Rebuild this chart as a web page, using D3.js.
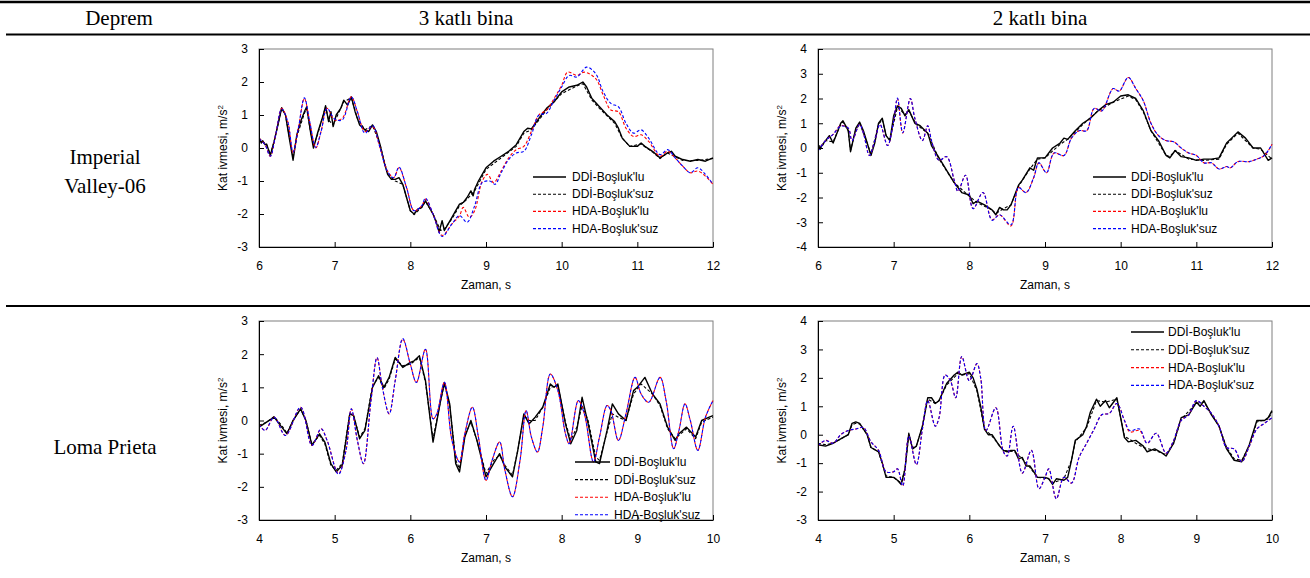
<!DOCTYPE html>
<html lang="tr">
<head>
<meta charset="UTF-8">
<script src="https://cdnjs.cloudflare.com/ajax/libs/d3/7.8.5/d3.min.js"></script>
<title>Kat ivmesi karşılaştırması</title>
<style>
  body { margin: 0; background: #fff; }
  svg { display: block; }
</style>
</head>
<body>
<script>

// table headers
let colTitles = ["Deprem", "3 katlı bina", "2 katlı bina"];
let rowTitles = [["Imperial", "Valley-06"], ["Loma Prieta"]];
let seriesNames = ["DDİ-Boşluk'lu", "DDİ-Boşluk'suz", "HDA-Boşluk'lu", "HDA-Boşluk'suz"];

let ivTicksX = [6, 7, 8, 9, 10, 11, 12];
let lpTicksX = [4, 5, 6, 7, 8, 9, 10];

// Imperial Valley-06, 3 katlı  [t, ivme]
let iv3DdiLu = [[6.00,0.32],[6.03,0.15],[6.05,0.22],[6.08,0.1],[6.1,0.12],[6.15,-0.22],[6.2,0.2],[6.25,0.7],[6.3,1.22],[6.35,1.0],[6.4,0.3],[6.45,-0.37],[6.5,0.4],[6.55,0.8],[6.6,1.1],[6.63,1.25],[6.68,0.5],[6.72,0.0],[6.78,0.5],[6.85,1.0],[6.88,1.28],[6.92,0.8],[6.95,1.1],[6.98,0.65],[7.02,1.0],[7.08,1.2],[7.12,1.45],[7.17,1.3],[7.22,1.55],[7.27,1.1],[7.33,0.7],[7.4,0.55],[7.45,0.5],[7.5,0.7],[7.55,0.5],[7.6,0.1],[7.65,-0.4],[7.7,-0.8],[7.75,-0.95],[7.8,-0.95],[7.85,-0.9],[7.9,-1.1],[7.95,-1.5],[8.0,-1.9],[8.05,-2.0],[8.1,-1.85],[8.15,-1.8],[8.2,-1.6],[8.25,-1.8],[8.3,-2.0],[8.35,-2.3],[8.38,-2.55],[8.42,-2.2],[8.45,-2.5],[8.5,-2.3],[8.55,-2.1],[8.6,-1.9],[8.65,-1.7],[8.7,-1.65],[8.75,-1.5],[8.8,-1.3],[8.83,-1.45],[8.85,-1.25],[8.9,-1.0],[8.95,-0.8],[9.0,-0.6],[9.1,-0.4],[9.2,-0.25],[9.3,-0.1],[9.4,0.1],[9.5,0.5],[9.55,0.6],[9.6,0.58],[9.7,0.9],[9.8,1.2],[9.9,1.4],[10.0,1.7],[10.1,1.85],[10.2,1.9],[10.28,2.0],[10.33,1.85],[10.4,1.5],[10.5,1.25],[10.6,1.0],[10.7,0.8],[10.75,0.6],[10.8,0.3],[10.9,0.05],[11.0,0.05],[11.05,0.15],[11.1,0.05],[11.2,-0.1],[11.3,-0.3],[11.4,-0.15],[11.45,-0.1],[11.5,-0.25],[11.6,-0.35],[11.7,-0.4],[11.8,-0.35],[11.9,-0.4],[12.0,-0.3]];
let iv3DdiSuz = [[6.00,0.3],[6.05,0.18],[6.1,0.1],[6.15,-0.2],[6.2,0.2],[6.3,1.2],[6.35,1.0],[6.4,0.35],[6.45,-0.3],[6.5,0.35],[6.6,1.05],[6.63,1.2],[6.68,0.5],[6.72,0.05],[6.78,0.45],[6.88,1.25],[6.92,0.85],[6.98,0.7],[7.05,1.05],[7.12,1.4],[7.22,1.52],[7.3,0.9],[7.4,0.55],[7.5,0.68],[7.6,0.1],[7.7,-0.8],[7.8,-1.0],[7.9,-1.1],[8.0,-1.9],[8.05,-2.02],[8.15,-1.8],[8.2,-1.62],[8.3,-2.0],[8.4,-2.5],[8.45,-2.45],[8.55,-2.15],[8.65,-1.75],[8.75,-1.55],[8.85,-1.3],[9.0,-0.65],[9.2,-0.3],[9.4,0.05],[9.5,0.45],[9.6,0.55],[9.8,1.15],[10.0,1.65],[10.2,1.88],[10.28,1.95],[10.4,1.45],[10.5,1.2],[10.7,0.75],[10.8,0.3],[10.9,0.05],[11.05,0.12],[11.2,-0.12],[11.3,-0.32],[11.4,-0.15],[11.6,-0.38],[11.8,-0.38],[12.0,-0.32]];
let iv3HdaLu = [[6.0,0.3],[6.08,0.1],[6.15,-0.25],[6.22,0.4],[6.3,1.2],[6.38,0.8],[6.45,-0.15],[6.52,0.6],[6.6,1.5],[6.67,0.8],[6.75,0.0],[6.82,0.5],[6.9,1.2],[7.0,0.85],[7.1,0.9],[7.22,1.55],[7.3,1.1],[7.4,0.5],[7.5,0.65],[7.6,0.0],[7.7,-0.7],[7.78,-0.9],[7.85,-0.6],[7.95,-1.2],[8.05,-1.9],[8.15,-1.75],[8.2,-1.55],[8.3,-2.0],[8.42,-2.65],[8.55,-2.3],[8.65,-2.05],[8.7,-1.8],[8.78,-2.1],[8.85,-1.9],[8.95,-1.0],[9.02,-0.8],[9.1,-1.05],[9.2,-0.7],[9.3,-0.3],[9.4,-0.05],[9.5,0.05],[9.6,0.5],[9.7,1.0],[9.8,1.15],[9.9,1.5],[10.0,1.9],[10.08,2.3],[10.2,2.2],[10.3,2.3],[10.45,2.1],[10.55,1.6],[10.65,1.15],[10.75,1.1],[10.85,0.6],[10.95,0.35],[11.05,0.4],[11.15,0.2],[11.3,-0.25],[11.4,-0.1],[11.5,-0.3],[11.6,-0.55],[11.7,-0.75],[11.8,-0.7],[11.9,-0.85],[12.0,-1.1]];
let iv3HdaSuz = [[6.0,0.28],[6.08,0.1],[6.15,-0.25],[6.22,0.4],[6.3,1.18],[6.38,0.8],[6.45,-0.12],[6.52,0.6],[6.6,1.52],[6.67,0.8],[6.75,0.02],[6.82,0.5],[6.9,1.2],[7.0,0.88],[7.1,0.85],[7.22,1.55],[7.3,1.1],[7.4,0.45],[7.5,0.68],[7.6,0.0],[7.7,-0.72],[7.78,-0.9],[7.85,-0.58],[7.95,-1.2],[8.05,-1.9],[8.15,-1.75],[8.2,-1.52],[8.3,-2.0],[8.42,-2.68],[8.55,-2.3],[8.65,-2.05],[8.75,-2.25],[8.85,-1.75],[8.95,-1.05],[9.05,-1.0],[9.12,-1.1],[9.2,-0.75],[9.3,-0.35],[9.4,-0.15],[9.5,-0.1],[9.6,0.4],[9.7,1.0],[9.8,1.05],[9.9,1.45],[10.0,1.85],[10.1,2.2],[10.2,2.15],[10.33,2.45],[10.45,2.25],[10.55,1.7],[10.65,1.35],[10.75,1.25],[10.85,0.75],[10.95,0.45],[11.05,0.55],[11.15,0.3],[11.3,-0.2],[11.4,-0.05],[11.5,-0.3],[11.6,-0.55],[11.7,-0.75],[11.8,-0.6],[11.9,-0.8],[12.0,-1.1]];

// Imperial Valley-06, 2 katlı
let iv2DdiLu = [[6.0,0.15],[6.03,-0.05],[6.05,0.1],[6.1,0.3],[6.15,0.5],[6.2,0.2],[6.25,0.6],[6.3,1.0],[6.33,1.1],[6.4,0.7],[6.43,-0.15],[6.5,0.8],[6.55,1.05],[6.6,0.7],[6.65,0.2],[6.7,-0.3],[6.75,0.2],[6.8,1.0],[6.85,1.2],[6.9,0.5],[6.95,0.3],[7.0,1.3],[7.05,1.7],[7.1,1.6],[7.15,1.3],[7.2,1.55],[7.28,1.0],[7.35,0.9],[7.45,0.6],[7.5,0.1],[7.6,-0.4],[7.7,-0.9],[7.8,-1.4],[7.9,-1.8],[8.0,-1.9],[8.05,-2.25],[8.1,-2.15],[8.2,-2.3],[8.3,-2.5],[8.35,-2.7],[8.4,-2.4],[8.45,-2.5],[8.5,-2.5],[8.55,-2.3],[8.6,-1.9],[8.65,-1.5],[8.7,-1.3],[8.8,-0.8],[8.85,-0.9],[8.9,-0.4],[9.0,-0.4],[9.1,0.0],[9.2,0.2],[9.25,0.4],[9.3,0.35],[9.4,0.7],[9.5,1.0],[9.6,1.2],[9.7,1.5],[9.8,1.75],[9.9,1.85],[10.0,2.1],[10.1,2.15],[10.2,2.0],[10.3,1.5],[10.4,0.7],[10.5,0.3],[10.6,-0.3],[10.65,-0.4],[10.72,-0.1],[10.8,-0.35],[10.9,-0.4],[11.0,-0.5],[11.1,-0.45],[11.2,-0.45],[11.3,-0.4],[11.4,0.2],[11.5,0.5],[11.55,0.65],[11.65,0.4],[11.75,0.0],[11.85,0.0],[11.95,-0.5],[12.0,-0.4]];
let iv2DdiSuz = [[6.0,0.1],[6.05,0.05],[6.1,0.3],[6.2,0.25],[6.3,0.95],[6.33,1.05],[6.4,0.7],[6.43,-0.1],[6.5,0.75],[6.55,1.0],[6.65,0.2],[6.7,-0.25],[6.8,0.95],[6.85,1.15],[6.9,0.5],[6.95,0.35],[7.05,1.65],[7.15,1.35],[7.2,1.5],[7.3,0.95],[7.45,0.6],[7.6,-0.45],[7.8,-1.4],[8.0,-1.95],[8.1,-2.2],[8.3,-2.5],[8.35,-2.65],[8.45,-2.45],[8.55,-2.3],[8.65,-1.55],[8.8,-0.85],[8.9,-0.45],[9.0,-0.4],[9.2,0.15],[9.3,0.35],[9.5,0.95],[9.7,1.5],[9.9,1.85],[10.1,2.1],[10.2,1.95],[10.3,1.45],[10.4,0.7],[10.6,-0.3],[10.65,-0.35],[10.72,-0.1],[10.9,-0.45],[11.1,-0.5],[11.3,-0.45],[11.4,0.15],[11.55,0.6],[11.75,0.0],[11.85,-0.05],[12.0,-0.45]];
let iv2HdaLu = [[6.0,-0.1],[6.1,0.3],[6.2,0.55],[6.3,0.9],[6.4,0.8],[6.45,0.3],[6.55,0.95],[6.6,0.6],[6.68,-0.3],[6.75,0.3],[6.82,0.95],[6.92,0.1],[7.0,1.1],[7.05,2.0],[7.12,0.6],[7.22,2.0],[7.28,1.2],[7.38,0.3],[7.45,0.9],[7.5,0.3],[7.6,-0.5],[7.7,-0.35],[7.8,-1.3],[7.85,-1.75],[7.95,-1.1],[8.05,-2.45],[8.18,-1.8],[8.3,-2.9],[8.4,-2.7],[8.55,-3.15],[8.65,-1.6],[8.75,-1.8],[8.85,-1.2],[8.92,-0.6],[9.02,-1.0],[9.12,-0.2],[9.25,-0.3],[9.35,0.4],[9.45,0.7],[9.55,0.7],[9.65,1.6],[9.75,1.5],[9.9,2.4],[9.98,2.3],[10.1,2.85],[10.2,2.4],[10.3,1.9],[10.4,1.0],[10.5,0.5],[10.6,0.3],[10.7,0.25],[10.8,0.0],[10.9,-0.2],[11.0,-0.3],[11.1,-0.6],[11.2,-0.6],[11.3,-0.85],[11.4,-0.75],[11.45,-0.8],[11.55,-0.55],[11.7,-0.55],[11.8,-0.45],[11.9,-0.3],[12.0,0.15]];
let iv2HdaSuz = [[6.0,-0.12],[6.1,0.3],[6.2,0.55],[6.3,0.88],[6.4,0.8],[6.45,0.3],[6.55,0.95],[6.6,0.6],[6.68,-0.3],[6.75,0.3],[6.82,0.95],[6.92,0.1],[7.0,1.1],[7.05,2.02],[7.12,0.62],[7.22,2.0],[7.28,1.2],[7.38,0.3],[7.45,0.9],[7.5,0.3],[7.6,-0.5],[7.7,-0.35],[7.8,-1.3],[7.85,-1.75],[7.95,-1.1],[8.05,-2.45],[8.18,-1.8],[8.3,-2.92],[8.4,-2.7],[8.55,-3.1],[8.65,-1.6],[8.75,-1.8],[8.85,-1.2],[8.92,-0.6],[9.02,-1.0],[9.12,-0.2],[9.25,-0.3],[9.35,0.4],[9.45,0.7],[9.55,0.7],[9.65,1.6],[9.75,1.5],[9.9,2.4],[9.98,2.3],[10.1,2.85],[10.2,2.4],[10.3,1.9],[10.4,1.0],[10.5,0.5],[10.6,0.3],[10.7,0.25],[10.8,0.0],[10.9,-0.2],[11.0,-0.3],[11.1,-0.6],[11.2,-0.6],[11.3,-0.85],[11.4,-0.75],[11.45,-0.8],[11.55,-0.55],[11.7,-0.55],[11.8,-0.45],[11.9,-0.3],[12.0,0.15]];

// Loma Prieta, 3 katlı
let lp3DdiLu = [[4.0,-0.2],[4.1,-0.05],[4.2,0.1],[4.3,-0.2],[4.37,-0.4],[4.45,0.0],[4.55,0.35],[4.62,0.0],[4.7,-0.75],[4.8,-0.4],[4.87,-0.65],[4.95,-1.3],[5.02,-1.55],[5.1,-1.35],[5.2,0.2],[5.25,0.15],[5.33,-0.55],[5.4,-0.3],[5.5,1.0],[5.58,1.35],[5.65,1.0],[5.72,1.3],[5.8,1.9],[5.9,1.6],[6.0,1.75],[6.05,1.8],[6.12,1.95],[6.2,1.2],[6.3,-0.65],[6.4,0.6],[6.45,1.15],[6.52,0.5],[6.6,-1.3],[6.65,-1.55],[6.72,-0.5],[6.8,0.0],[6.88,-0.6],[7.0,-1.7],[7.1,-1.3],[7.18,-1.0],[7.25,-1.4],[7.35,-1.7],[7.42,-0.9],[7.5,0.2],[7.57,-0.1],[7.65,0.1],[7.75,0.4],[7.85,1.1],[7.9,1.0],[7.95,1.1],[8.05,-0.1],[8.12,-0.7],[8.2,-0.3],[8.27,0.7],[8.35,-0.1],[8.45,-1.25],[8.5,-1.3],[8.6,-0.3],[8.67,0.5],[8.75,0.2],[8.85,0.0],[8.95,0.9],[9.0,1.0],[9.1,1.3],[9.2,0.8],[9.3,0.5],[9.4,-0.2],[9.5,-0.6],[9.55,-0.4],[9.65,-0.2],[9.77,-0.5],[9.85,0.0],[9.95,0.1],[10.0,0.15]];
let lp3DdiSuz = [[4.0,-0.15],[4.1,-0.05],[4.2,0.12],[4.3,-0.15],[4.37,-0.38],[4.45,0.0],[4.55,0.35],[4.62,0.0],[4.7,-0.72],[4.8,-0.45],[4.87,-0.7],[4.95,-1.35],[5.02,-1.5],[5.1,-1.3],[5.2,0.22],[5.25,0.15],[5.33,-0.5],[5.4,-0.25],[5.5,1.05],[5.58,1.3],[5.65,0.95],[5.72,1.25],[5.8,1.85],[5.9,1.65],[6.0,1.7],[6.12,1.9],[6.2,1.15],[6.3,-0.55],[6.4,0.6],[6.45,1.1],[6.52,0.45],[6.6,-1.2],[6.65,-1.45],[6.72,-0.45],[6.8,-0.05],[6.88,-0.6],[7.0,-1.6],[7.1,-1.2],[7.18,-1.05],[7.25,-1.35],[7.35,-1.65],[7.42,-0.9],[7.5,0.15],[7.57,0.0],[7.65,0.0],[7.75,0.4],[7.85,1.0],[7.95,1.05],[8.05,-0.05],[8.12,-0.6],[8.2,-0.2],[8.27,0.45],[8.35,0.0],[8.45,-1.1],[8.5,-1.2],[8.6,-0.35],[8.67,0.2],[8.75,0.1],[8.85,0.0],[8.95,0.8],[9.05,1.1],[9.2,0.8],[9.3,0.45],[9.4,-0.25],[9.5,-0.55],[9.55,-0.45],[9.65,-0.25],[9.77,-0.55],[9.85,-0.05],[9.95,0.05],[10.0,0.1]];
let lp3HdaLu = [[4.0,-0.1],[4.08,-0.3],[4.2,0.1],[4.35,-0.45],[4.55,0.4],[4.7,-0.75],[4.82,-0.25],[4.9,-0.6],[5.05,-1.6],[5.15,-0.9],[5.22,0.35],[5.3,-0.6],[5.38,-1.3],[5.48,0.6],[5.56,1.9],[5.63,1.0],[5.72,0.2],[5.8,1.2],[5.9,2.45],[6.0,1.7],[6.08,1.15],[6.2,2.15],[6.3,0.05],[6.35,0.2],[6.45,1.15],[6.55,-0.6],[6.65,-1.25],[6.72,-0.4],[6.82,0.4],[6.9,-0.5],[7.0,-1.8],[7.08,-1.2],[7.18,-0.65],[7.25,-1.5],[7.35,-2.3],[7.45,-1.2],[7.53,0.3],[7.6,-0.5],[7.68,-0.95],[7.75,-0.2],[7.85,1.4],[7.95,0.9],[8.05,-0.4],[8.1,-0.7],[8.22,0.6],[8.3,0.2],[8.42,-1.25],[8.5,-0.5],[8.6,0.45],[8.65,0.3],[8.75,-0.6],[8.85,0.2],[8.97,1.3],[9.05,0.8],[9.15,0.55],[9.3,1.3],[9.38,0.6],[9.48,-0.85],[9.55,-0.3],[9.63,0.5],[9.7,0.0],[9.8,-0.9],[9.9,0.1],[10.0,0.6]];
let lp3HdaSuz = [[4.0,-0.12],[4.08,-0.3],[4.2,0.1],[4.35,-0.45],[4.55,0.4],[4.7,-0.75],[4.82,-0.25],[4.9,-0.6],[5.05,-1.62],[5.15,-0.9],[5.22,0.35],[5.3,-0.6],[5.38,-1.3],[5.48,0.6],[5.56,1.9],[5.63,1.0],[5.72,0.2],[5.8,1.2],[5.9,2.47],[6.0,1.7],[6.08,1.15],[6.2,2.15],[6.3,0.05],[6.35,0.2],[6.45,1.15],[6.55,-0.6],[6.65,-1.25],[6.72,-0.4],[6.82,0.4],[6.9,-0.5],[7.0,-1.8],[7.08,-1.2],[7.18,-0.65],[7.25,-1.5],[7.35,-2.3],[7.45,-1.2],[7.53,0.3],[7.6,-0.5],[7.68,-0.95],[7.75,-0.2],[7.85,1.4],[7.95,0.9],[8.05,-0.4],[8.1,-0.7],[8.22,0.6],[8.3,0.2],[8.42,-1.25],[8.5,-0.5],[8.6,0.45],[8.65,0.3],[8.75,-0.6],[8.85,0.2],[8.97,1.3],[9.05,0.8],[9.15,0.55],[9.3,1.3],[9.38,0.6],[9.48,-0.85],[9.55,-0.3],[9.63,0.5],[9.7,0.0],[9.8,-0.9],[9.9,0.1],[10.0,0.6]];

// Loma Prieta, 2 katlı
let lp2DdiLu = [[4.0,-0.35],[4.1,-0.4],[4.2,-0.3],[4.3,-0.15],[4.4,0.0],[4.45,0.4],[4.5,0.45],[4.55,0.4],[4.65,0.0],[4.7,-0.45],[4.8,-0.6],[4.85,-1.0],[4.9,-1.5],[5.0,-1.5],[5.05,-1.6],[5.1,-1.75],[5.15,-1.2],[5.2,0.05],[5.25,-0.5],[5.3,-0.4],[5.38,0.3],[5.45,1.3],[5.5,1.3],[5.55,1.1],[5.6,1.2],[5.7,1.8],[5.8,2.1],[5.85,2.2],[5.9,2.1],[6.0,2.2],[6.05,2.0],[6.1,1.6],[6.15,1.0],[6.2,0.2],[6.25,0.0],[6.3,0.0],[6.4,-0.4],[6.45,-0.55],[6.5,-0.6],[6.55,-0.55],[6.6,-0.55],[6.65,-0.85],[6.7,-0.8],[6.75,-1.1],[6.8,-1.1],[6.85,-1.3],[6.9,-1.5],[7.0,-1.5],[7.05,-1.55],[7.1,-1.75],[7.15,-1.55],[7.25,-1.6],[7.3,-1.5],[7.35,-0.9],[7.4,-0.2],[7.5,0.0],[7.55,0.3],[7.6,0.8],[7.68,1.25],[7.73,1.0],[7.8,1.2],[7.85,0.95],[7.95,1.3],[8.05,-0.1],[8.1,-0.25],[8.2,-0.2],[8.3,-0.4],[8.35,-0.6],[8.45,-0.5],[8.55,-0.65],[8.6,-0.75],[8.7,-0.3],[8.8,0.6],[8.9,0.7],[9.0,1.15],[9.05,1.0],[9.1,1.2],[9.2,0.7],[9.3,0.3],[9.4,-0.5],[9.5,-0.9],[9.6,-0.95],[9.7,-0.35],[9.8,0.5],[9.9,0.5],[9.95,0.6],[10.0,0.85]];
let lp2DdiSuz = [[4.0,-0.3],[4.1,-0.35],[4.2,-0.3],[4.3,-0.15],[4.4,0.0],[4.45,0.35],[4.5,0.4],[4.55,0.38],[4.65,0.0],[4.7,-0.45],[4.8,-0.6],[4.9,-1.45],[5.0,-1.5],[5.1,-1.7],[5.15,-1.2],[5.2,0.0],[5.25,-0.45],[5.3,-0.4],[5.38,0.3],[5.45,1.25],[5.55,1.1],[5.6,1.2],[5.7,1.75],[5.85,2.15],[5.9,2.1],[6.0,2.15],[6.1,1.55],[6.2,0.2],[6.3,-0.05],[6.45,-0.55],[6.6,-0.6],[6.7,-0.85],[6.8,-1.15],[6.9,-1.5],[7.05,-1.55],[7.1,-1.7],[7.25,-1.55],[7.35,-0.9],[7.4,-0.25],[7.55,0.25],[7.68,1.2],[7.8,1.15],[7.95,1.25],[8.05,-0.05],[8.2,-0.3],[8.3,-0.45],[8.45,-0.55],[8.6,-0.7],[8.7,-0.3],[8.8,0.55],[9.0,1.1],[9.1,1.15],[9.3,0.3],[9.4,-0.45],[9.5,-0.85],[9.6,-0.9],[9.7,-0.4],[9.8,0.45],[9.95,0.55],[10.0,0.8]];
let lp2HdaLu = [[4.0,-0.4],[4.1,-0.2],[4.2,-0.3],[4.3,0.0],[4.4,0.15],[4.5,0.2],[4.6,0.25],[4.7,-0.25],[4.8,-0.55],[4.9,-1.3],[5.0,-1.3],[5.05,-1.2],[5.12,-1.8],[5.2,-0.05],[5.3,-1.05],[5.38,0.2],[5.45,1.2],[5.55,0.3],[5.6,0.6],[5.68,2.1],[5.75,1.9],[5.82,1.3],[5.9,2.75],[6.0,1.9],[6.1,2.5],[6.15,2.0],[6.22,0.15],[6.35,0.95],[6.45,-0.6],[6.5,-0.75],[6.58,0.3],[6.7,-1.35],[6.82,-0.55],[6.92,-1.9],[7.0,-1.5],[7.05,-1.2],[7.15,-2.25],[7.25,-1.5],[7.35,-1.7],[7.45,-0.8],[7.55,-0.3],[7.65,0.2],[7.75,0.7],[7.85,0.75],[7.95,1.1],[8.05,0.5],[8.12,0.1],[8.25,0.15],[8.35,-0.3],[8.47,0.05],[8.6,-0.65],[8.7,-0.2],[8.8,0.5],[8.9,0.7],[9.0,1.2],[9.1,1.0],[9.2,0.75],[9.3,0.3],[9.4,-0.45],[9.5,-0.5],[9.6,-0.95],[9.7,-0.4],[9.8,0.2],[9.9,0.4],[10.0,0.6]];
let lp2HdaSuz = [[4.0,-0.38],[4.1,-0.2],[4.2,-0.3],[4.3,0.0],[4.4,0.15],[4.5,0.2],[4.6,0.25],[4.7,-0.25],[4.8,-0.55],[4.9,-1.3],[5.0,-1.3],[5.05,-1.2],[5.12,-1.8],[5.2,-0.05],[5.3,-1.05],[5.38,0.2],[5.45,1.2],[5.55,0.3],[5.6,0.6],[5.68,2.1],[5.75,1.9],[5.82,1.3],[5.9,2.75],[6.0,1.9],[6.1,2.5],[6.15,2.0],[6.22,0.15],[6.35,0.95],[6.45,-0.6],[6.5,-0.75],[6.58,0.3],[6.7,-1.35],[6.82,-0.55],[6.92,-1.9],[7.0,-1.5],[7.05,-1.2],[7.15,-2.25],[7.25,-1.5],[7.35,-1.7],[7.45,-0.8],[7.55,-0.3],[7.65,0.2],[7.75,0.7],[7.85,0.75],[7.95,1.1],[8.05,0.5],[8.12,0.15],[8.25,0.2],[8.35,-0.3],[8.47,0.05],[8.6,-0.65],[8.7,-0.2],[8.8,0.5],[8.9,0.7],[9.0,1.2],[9.1,1.0],[9.2,0.75],[9.3,0.3],[9.4,-0.45],[9.5,-0.5],[9.6,-0.95],[9.7,-0.4],[9.8,0.2],[9.9,0.4],[10.0,0.6]];

let width = 1310, height = 578;
let sansFont = "'Liberation Sans', Arial, sans-serif";
let serifFont = "'Liberation Serif', 'Times New Roman', serif";

let svg = d3.select("body").append("svg")
    .attr("width", width)
    .attr("height", height);

// table rules
svg.append("line").attr("x1", 0).attr("x2", width).attr("y1", 2).attr("y2", 2)
    .attr("stroke", "#000").attr("stroke-width", 2.5);
svg.append("line").attr("x1", 6).attr("x2", width).attr("y1", 34.5).attr("y2", 34.5)
    .attr("stroke", "#000").attr("stroke-width", 2);
svg.append("line").attr("x1", 6).attr("x2", width).attr("y1", 306).attr("y2", 306)
    .attr("stroke", "#000").attr("stroke-width", 2);

let colX = [119, 466, 1040];
colTitles.forEach(function(t, i) {
    svg.append("text")
        .attr("x", colX[i]).attr("y", 25)
        .attr("text-anchor", "middle")
        .style("font-family", serifFont).style("font-size", "21px")
        .text(t);
});

let rowY = [[164, 193], [454]];
rowTitles.forEach(function(lines, i) {
    lines.forEach(function(l, j) {
        svg.append("text")
            .attr("x", 105).attr("y", rowY[i][j])
            .attr("text-anchor", "middle")
            .style("font-family", serifFont).style("font-size", "21px")
            .text(l);
    });
});

let colors = ["#000", "#000", "#ff0000", "#0000ff"];
let dashes = [null, "3,2", "3,2", "3,2"];
let widths = [1.4, 1.1, 1.1, 1.1];

function drawChart(cfg) {
    let x = d3.scaleLinear().domain(cfg.xDomain).range([cfg.left, cfg.right]);
    let y = d3.scaleLinear().domain(cfg.yDomain).range([cfg.bottom, cfg.top]);
    let g = svg.append("g");

    // plot frame
    g.append("rect")
        .attr("x", cfg.left).attr("y", cfg.top)
        .attr("width", cfg.right - cfg.left).attr("height", cfg.bottom - cfg.top)
        .attr("fill", "none").attr("stroke", "#7f7f7f").attr("stroke-width", 1);

    let clipId = "clip" + cfg.id;
    svg.append("clipPath").attr("id", clipId).append("rect")
        .attr("x", cfg.left).attr("y", cfg.top - 2)
        .attr("width", cfg.right - cfg.left + 1).attr("height", cfg.bottom - cfg.top + 4);

    cfg.series.forEach(function(s, i) {
        let line = d3.line()
            .x(function(d) { return x(d[0]); })
            .y(function(d) { return y(d[1]); })
            .curve(i < 2 ? d3.curveLinear : d3.curveCatmullRom.alpha(0.5));
        g.append("path")
            .datum(s)
            .attr("clip-path", "url(#" + clipId + ")")
            .attr("fill", "none")
            .attr("stroke", colors[i])
            .attr("stroke-width", widths[i])
            .attr("stroke-dasharray", dashes[i])
            .attr("stroke-linejoin", "round")
            .attr("d", line);
    });

    // axes
    let xAxis = g.append("g")
        .attr("transform", "translate(0," + cfg.bottom + ")")
        .call(d3.axisBottom(x).tickValues(cfg.xTicks).tickFormat(d3.format("d"))
            .tickSizeInner(-5).tickSizeOuter(0).tickPadding(14));
    let yTicks = d3.range(cfg.yDomain[0], cfg.yDomain[1] + 1);
    let yAxis = g.append("g")
        .attr("transform", "translate(" + cfg.left + ",0)")
        .call(d3.axisLeft(y).tickValues(yTicks).tickFormat(function(d) { return d < 0 ? "-" + Math.abs(d) : d; })
            .tickSizeInner(-5).tickSizeOuter(0).tickPadding(11));
    [xAxis, yAxis].forEach(function(a) {
        a.select(".domain").attr("stroke", "#000");
        a.selectAll("line").attr("stroke", "#000");
        a.selectAll("text")
            .style("font-family", sansFont).style("font-size", "12px").attr("fill", "#000");
    });

    // axis titles
    g.append("text")
        .attr("x", (cfg.left + cfg.right) / 2).attr("y", cfg.bottom + 42)
        .attr("text-anchor", "middle")
        .style("font-family", sansFont).style("font-size", "12px")
        .text("Zaman, s");

    let yt = g.append("text")
        .attr("transform", "translate(" + (cfg.left - 32) + "," + ((cfg.top + cfg.bottom) / 2) + ") rotate(-90)")
        .attr("text-anchor", "middle")
        .style("font-family", sansFont).style("font-size", "12px");
    yt.append("tspan").text("Kat ivmesi, m/s");
    yt.append("tspan").attr("dy", -4).style("font-size", "8px").text("2");

    // legend
    seriesNames.forEach(function(name, i) {
        let ly = cfg.legend.y + i * cfg.legend.step;
        g.append("line")
            .attr("x1", cfg.legend.x1).attr("x2", cfg.legend.x2)
            .attr("y1", ly).attr("y2", ly)
            .attr("stroke", colors[i])
            .attr("stroke-width", widths[i])
            .attr("stroke-dasharray", dashes[i]);
        g.append("text")
            .attr("x", cfg.legend.tx).attr("y", ly + 4)
            .style("font-family", sansFont).style("font-size", "12px")
            .text(name);
    });
}

drawChart({
    id: 1, left: 259, right: 713, top: 49, bottom: 247,
    xDomain: [6, 12], yDomain: [-3, 3], xTicks: ivTicksX,
    series: [iv3DdiLu, iv3DdiSuz, iv3HdaLu, iv3HdaSuz],
    legend: {x1: 533, x2: 566, tx: 572, y: 177, step: 17.2}
});
drawChart({
    id: 2, left: 818, right: 1272, top: 49, bottom: 247,
    xDomain: [6, 12], yDomain: [-4, 4], xTicks: ivTicksX,
    series: [iv2DdiLu, iv2DdiSuz, iv2HdaLu, iv2HdaSuz],
    legend: {x1: 1093, x2: 1126, tx: 1131, y: 177, step: 17.2}
});
drawChart({
    id: 3, left: 259, right: 713, top: 321, bottom: 520,
    xDomain: [4, 10], yDomain: [-3, 3], xTicks: lpTicksX,
    series: [lp3DdiLu, lp3DdiSuz, lp3HdaLu, lp3HdaSuz],
    legend: {x1: 575, x2: 610, tx: 614, y: 462, step: 17.6}
});
drawChart({
    id: 4, left: 818, right: 1272, top: 321, bottom: 520,
    xDomain: [4, 10], yDomain: [-3, 4], xTicks: lpTicksX,
    series: [lp2DdiLu, lp2DdiSuz, lp2HdaLu, lp2HdaSuz],
    legend: {x1: 1131, x2: 1164, tx: 1168, y: 332, step: 17.8}
});

</script>
</body>
</html>
